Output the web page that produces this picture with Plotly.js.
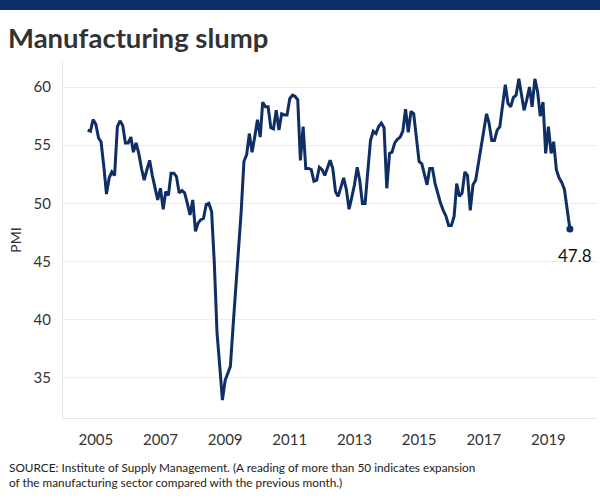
<!DOCTYPE html>
<html>
<head>
<meta charset="utf-8">
<script src="https://cdn.plot.ly/plotly-3.0.1.min.js"></script>
<style>
  html, body { margin: 0; padding: 0; background: #fff; }
  #chart { width: 600px; height: 500px; }
</style>
</head>
<body>
<div id="chart"></div>
<script>
// ISM manufacturing PMI, monthly, first reading Oct 2004, last Sep 2019
const startYear = 2004;
const startMonth = 10;
const pmi = [
  56.3, 56.2, 57.2, 56.8, 55.6, 55.3, 53.2, 50.8, 52.2, 52.7,
  52.4, 56.6, 57.1, 56.7, 55.2, 55.2, 55.7, 54.4, 55.2, 54.3,
  53.0, 52.0, 52.9, 53.7, 52.4, 51.4, 50.3, 51.3, 49.5, 51.0,
  50.7, 52.6, 52.6, 52.3, 50.9, 51.1, 50.9, 50.0, 49.0, 50.3,
  47.6, 48.3, 48.6, 48.7, 49.9, 50.0, 49.3, 44.8, 38.9, 36.0,
  33.1, 34.8, 35.4, 36.0, 39.5, 42.8, 45.8, 49.3, 53.6, 54.2,
  56.0, 54.4, 55.7, 57.2, 55.7, 58.7, 58.3, 58.3, 56.5, 56.4,
  58.0, 56.3, 57.7, 57.6, 57.6, 59.0, 59.3, 59.2, 58.9, 53.7,
  56.6, 53.0, 53.0, 52.9, 51.9, 52.0, 53.1, 52.9, 52.4, 53.0,
  53.7, 53.0, 51.0, 50.6, 51.5, 52.2, 51.2, 49.5, 50.5, 51.6,
  53.1, 52.0, 50.0, 50.0, 52.8, 55.4, 56.2, 56.0, 56.6, 56.9,
  56.5, 51.3, 54.3, 54.4, 55.2, 55.5, 55.7, 56.2, 58.1, 56.1,
  57.9, 57.7, 55.7, 53.6, 53.4, 52.6, 51.6, 53.0, 53.0, 51.7,
  50.8, 50.0, 49.4, 48.9, 48.1, 48.1, 48.9, 51.7, 50.6, 50.9,
  52.7, 52.4, 49.4, 51.6, 52.0, 53.4, 54.6, 56.0, 57.7, 56.9,
  55.4, 55.4, 56.3, 56.6, 58.6, 60.2, 58.6, 58.3, 59.1, 59.3,
  60.7, 59.5, 58.0, 58.9, 60.0, 58.3, 60.7, 59.6, 57.5, 58.7,
  54.3, 56.6, 54.3, 55.3, 52.9, 52.2, 51.8, 51.2, 49.4, 47.8
];
const yTicks = [35, 40, 45, 50, 55, 60];
const xTickYears = ['2005', '2007', '2009', '2011', '2013', '2015', '2017', '2019'];

const months = pmi.map((_, i) => {
  const t = (startMonth - 1) + i;
  const y = startYear + Math.floor(t / 12);
  const m = (t % 12) + 1;
  return y + '-' + String(m).padStart(2, '0') + '-01';
});
const lastX = months[months.length - 1];
const lastY = pmi[pmi.length - 1];

const navy = '#0e2e64';
const font = 'Lato, "Open Sans", sans-serif';

const traces = [
  {
    x: months, y: pmi, type: 'scatter', mode: 'lines',
    line: { color: navy, width: 3 },
    hoverinfo: 'skip', showlegend: false
  },
  {
    x: [lastX], y: [lastY], type: 'scatter', mode: 'markers',
    marker: { color: navy, size: 7 },
    hoverinfo: 'skip', showlegend: false
  }
];

const layout = {
  width: 600, height: 500,
  margin: { l: 63, r: 3, t: 62, b: 82 },
  paper_bgcolor: '#ffffff', plot_bgcolor: '#ffffff',
  font: { family: font, color: '#333333' },
  title: {
    text: '<b>Manufacturing slump</b>',
    font: { family: font, size: 27.5, color: '#333333' },
    x: 8 / 600, xanchor: 'left', xref: 'container',
    y: 1 - 38 / 500, yanchor: 'middle', yref: 'container'
  },
  xaxis: {
    type: 'date',
    range: ['2003-12-27', '2020-07-03'],
    tickvals: xTickYears.map(y => y + '-01-01'),
    ticktext: xTickYears,
    showgrid: false, zeroline: false,
    showline: true, linecolor: '#e6e6e6', linewidth: 1,
    ticks: '', ticklabelstandoff: 8,
    tickfont: { family: font, size: 15, color: '#333333' },
    fixedrange: true
  },
  yaxis: {
    range: [31.56, 62.15],
    tickvals: yTicks,
    showgrid: true, gridcolor: '#ececec', gridwidth: 1,
    zeroline: false,
    showline: true, linecolor: '#e6e6e6', linewidth: 1,
    ticks: '', ticklabelstandoff: 8,
    tickfont: { family: font, size: 15, color: '#333333' },
    title: { text: 'PMI', font: { family: font, size: 14, color: '#333333' }, standoff: 8 },
    fixedrange: true
  },
  shapes: [
    {
      type: 'rect', xref: 'paper', yref: 'paper',
      x0: -63 / 534, x1: 537 / 534, y0: 408 / 356, y1: 418 / 356,
      fillcolor: '#0c2e6b', line: { width: 0 }, layer: 'above'
    }
  ],
  annotations: [
    {
      x: lastX, y: lastY, xref: 'x', yref: 'y',
      text: String(lastY), showarrow: false,
      xanchor: 'center', yanchor: 'middle',
      xshift: 5, yshift: -26,
      font: { family: font, size: 17, color: '#111111' }
    },
    {
      xref: 'paper', yref: 'paper',
      x: -56 / 534, y: (418 - 475) / 356,
      xanchor: 'left', yanchor: 'middle', align: 'left',
      showarrow: false,
      text: 'SOURCE: Institute of Supply Management. (A reading of more than 50 indicates expansion<br>of the manufacturing sector compared with the previous month.)',
      font: { family: font, size: 11.8, color: '#222222' }
    }
  ]
};

Plotly.newPlot('chart', traces, layout, { staticPlot: true, displayModeBar: false });
</script>
</body>
</html>
